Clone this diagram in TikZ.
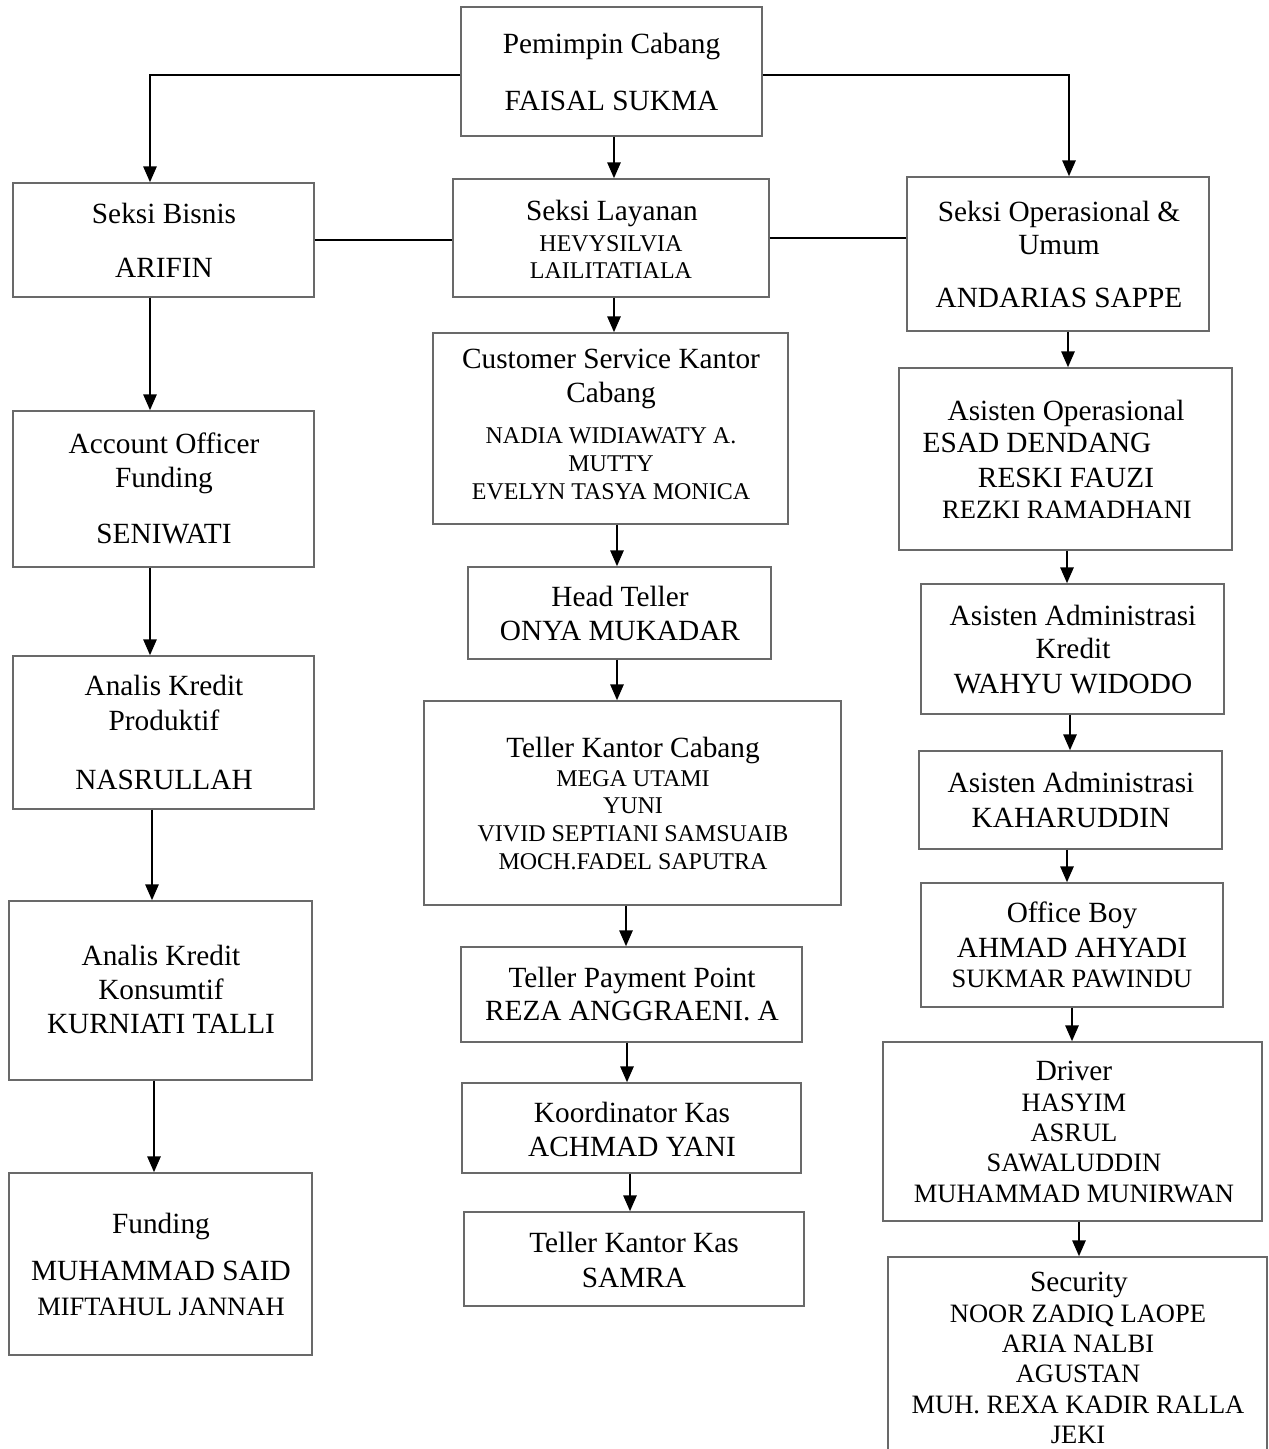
\documentclass[tikz,border=0pt]{standalone}
\usepackage{fontspec}
\setmainfont{Liberation Serif}
\usetikzlibrary{arrows.meta,fit}
\definecolor{boxgray}{RGB}{105,105,105}
\newcommand\fB{\fontsize{29.3}{32}\selectfont}
\newcommand\fM{\fontsize{26.5}{30}\selectfont}
\newcommand\fS{\fontsize{24}{27}\selectfont}
\newcommand\tx[5]{\node[font=#2, anchor=base, inner sep=0pt] (#1) at (#3,#4) {#5};}
\newcommand\bx[5]{\node[orgbox, fit={(#2,#3) (#4,#5)}] (#1) {};}
\newcommand\arrv[3]{\coordinate (ax) at (#1,0); \draw[arr] (#2.south -| ax) -- (#3.north -| ax);}
\tikzset{
  orgbox/.style={draw=boxgray, line width=1.3pt, rectangle, inner sep=0pt},
  arr/.style={line width=2.8pt, -{Triangle[width=13pt,length=16pt]}},
  conn/.style={line width=2.8pt}
}
\begin{document}
\begin{tikzpicture}[x=1pt,y=-1pt]
\useasboundingbox (0,0) rectangle (1269,1449);
\fill[white] (0,0) rectangle (1269,1449);

% ---------- boxes ----------
\bx{pc}{461}{7}{762}{136}
\bx{sb}{13}{183}{314}{297}
\bx{sl}{453}{179}{769}{297}
\bx{so}{907}{177}{1209}{331}
\bx{aof}{13}{411}{314}{567}
\bx{akp}{13}{656}{314}{809}
\bx{akk}{9}{901}{312}{1080}
\bx{fund}{9}{1173}{312}{1355}
\bx{cs}{433}{333}{788}{524}
\bx{ht}{468}{567}{771}{659}
\bx{tkc}{424}{701}{841}{905}
\bx{tpp}{461}{947}{802}{1042}
\bx{kk}{462}{1083}{801}{1173}
\bx{tkk}{464}{1212}{804}{1306}
\bx{ao}{899}{368}{1232}{550}
\bx{aak}{921}{584}{1224}{714}
\bx{aa}{919}{751}{1222}{849}
\bx{ob}{921}{883}{1223}{1007}
\bx{drv}{883}{1042}{1262}{1221}
\bx{sec}{888}{1257}{1267}{1475}

% ---------- texts ----------
\tx{pc1}{\fB}{611.5}{53}{Pemimpin Cabang}
\tx{pc2}{\fB}{611.5}{110}{FAISAL SUKMA}
\tx{sb1}{\fB}{164}{223}{Seksi Bisnis}
\tx{sb2}{\fB}{164}{277}{ARIFIN}
\tx{sl1}{\fB}{612}{220}{Seksi Layanan}
\tx{sl2}{\fS}{611}{251}{HEVYSILVIA}
\tx{sl3}{\fS}{611}{278}{LAILITATIALA}
\tx{so1}{\fB}{1059}{221}{Seksi Operasional \&}
\tx{so2}{\fB}{1059}{254}{Umum}
\tx{so3}{\fB}{1059}{307}{ANDARIAS SAPPE}
\tx{aof1}{\fB}{164}{453}{Account Officer}
\tx{aof2}{\fB}{164}{487}{Funding}
\tx{aof3}{\fB}{164}{543}{SENIWATI}
\tx{akp1}{\fB}{164}{695}{Analis Kredit}
\tx{akp2}{\fB}{164}{730}{Produktif}
\tx{akp3}{\fB}{164}{789}{NASRULLAH}
\tx{akk1}{\fB}{161}{965}{Analis Kredit}
\tx{akk2}{\fB}{161}{999}{Konsumtif}
\tx{akk3}{\fB}{161}{1033}{KURNIATI TALLI}
\tx{fu1}{\fB}{161}{1233}{Funding}
\tx{fu2}{\fB}{161}{1280}{MUHAMMAD SAID}
\tx{fu3}{\fM}{161}{1315}{MIFTAHUL JANNAH}
\tx{cs1}{\fB}{611}{368}{Customer Service Kantor}
\tx{cs2}{\fB}{611}{402}{Cabang}
\tx{cs3}{\fS}{611}{443}{NADIA WIDIAWATY A.}
\tx{cs4}{\fS}{611}{471}{MUTTY}
\tx{cs5}{\fS}{611}{499}{EVELYN TASYA MONICA}
\tx{ht1}{\fB}{620}{606}{Head Teller}
\tx{ht2}{\fB}{620}{640}{ONYA MUKADAR}
\tx{tkc1}{\fB}{633}{757}{Teller Kantor Cabang}
\tx{tkc2}{\fS}{633}{786}{MEGA UTAMI}
\tx{tkc3}{\fS}{633}{813}{YUNI}
\tx{tkc4}{\fS}{633}{841}{VIVID SEPTIANI SAMSUAIB}
\tx{tkc5}{\fS}{633}{869}{MOCH.FADEL SAPUTRA}
\tx{tpp1}{\fB}{632}{987}{Teller Payment Point}
\tx{tpp2}{\fB}{632}{1020}{REZA ANGGRAENI. A}
\tx{kk1}{\fB}{632}{1122}{Koordinator Kas}
\tx{kk2}{\fB}{632}{1156}{ACHMAD YANI}
\tx{tkk1}{\fB}{634}{1252}{Teller Kantor Kas}
\tx{tkk2}{\fB}{634}{1287}{SAMRA}
\tx{ao1}{\fB}{1066}{420}{Asisten Operasional}
\tx{ao2}{\fB}{1037}{452}{ESAD DENDANG}
\tx{ao3}{\fB}{1066}{487}{RESKI FAUZI}
\tx{ao4}{\fM}{1067}{518}{REZKI RAMADHANI}
\tx{aak1}{\fB}{1073}{625}{Asisten Administrasi}
\tx{aak2}{\fB}{1073}{658}{Kredit}
\tx{aak3}{\fB}{1073}{693}{WAHYU WIDODO}
\tx{aa1}{\fB}{1071}{792}{Asisten Administrasi}
\tx{aa2}{\fB}{1071}{827}{KAHARUDDIN}
\tx{ob1}{\fB}{1072}{922}{Office Boy}
\tx{ob2}{\fB}{1072}{957}{AHMAD AHYADI}
\tx{ob3}{\fM}{1072}{987}{SUKMAR PAWINDU}
\tx{dr1}{\fB}{1074}{1080}{Driver}
\tx{dr2}{\fM}{1074}{1111}{HASYIM}
\tx{dr3}{\fM}{1074}{1141}{ASRUL}
\tx{dr4}{\fM}{1074}{1171}{SAWALUDDIN}
\tx{dr5}{\fM}{1074}{1202}{MUHAMMAD MUNIRWAN}
\tx{se1}{\fB}{1079}{1291}{Security}
\tx{se2}{\fM}{1078}{1322}{NOOR ZADIQ LAOPE}
\tx{se3}{\fM}{1078}{1352}{ARIA NALBI}
\tx{se4}{\fM}{1078}{1382}{AGUSTAN}
\tx{se5}{\fM}{1078}{1413}{MUH. REXA KADIR RALLA}
\tx{se6}{\fM}{1078}{1443}{JEKI}

% ---------- connectors ----------
\coordinate (ytop) at (0,75);
\coordinate (xl) at (150,0);
\coordinate (xr) at (1069,0);
\draw[arr] (pc.west |- ytop) -| (sb.north -| xl);
\draw[arr] (pc.east |- ytop) -| (so.north -| xr);
\arrv{614}{pc}{sl}
\coordinate (ymid1) at (0,240);
\coordinate (ymid2) at (0,238);
\draw[conn] (sb.east |- ymid1) -- (sl.west |- ymid1);
\draw[conn] (sl.east |- ymid2) -- (so.west |- ymid2);

\arrv{150}{sb}{aof}
\arrv{150}{aof}{akp}
\arrv{152}{akp}{akk}
\arrv{154}{akk}{fund}

\arrv{614}{sl}{cs}
\arrv{617}{cs}{ht}
\arrv{617}{ht}{tkc}
\arrv{626}{tkc}{tpp}
\arrv{627}{tpp}{kk}
\arrv{630}{kk}{tkk}

\arrv{1068}{so}{ao}
\arrv{1067}{ao}{aak}
\arrv{1070}{aak}{aa}
\arrv{1067}{aa}{ob}
\arrv{1072}{ob}{drv}
\arrv{1079}{drv}{sec}
\end{tikzpicture}
\end{document}
